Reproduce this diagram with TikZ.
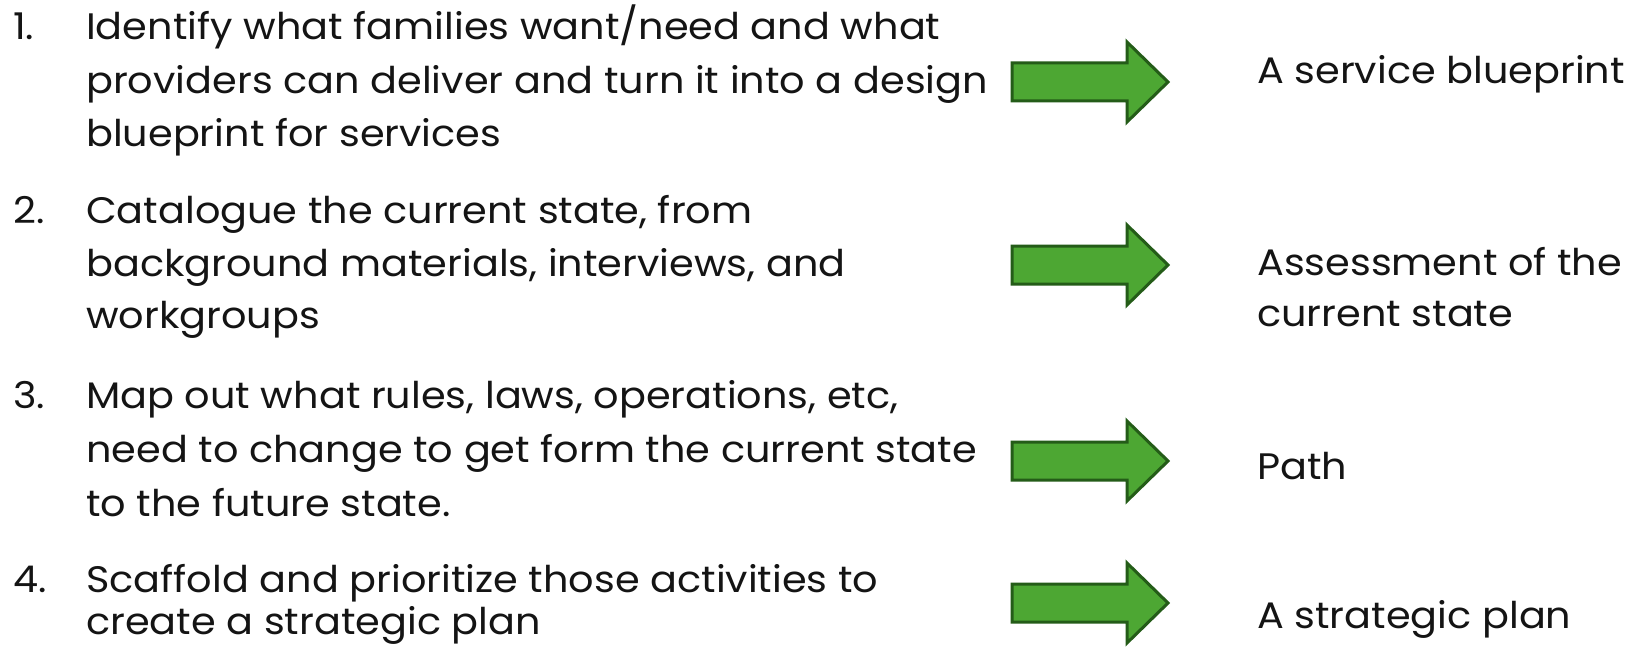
\documentclass[tikz,border=0pt]{standalone}
\usepackage{fontspec}
\setmainfont{Poppins}[FakeStretch=1.08]
\definecolor{arrowfill}{RGB}{77,167,51}
\definecolor{arrowdraw}{RGB}{36,92,24}
\definecolor{txt}{RGB}{20,20,20}
\tikzset{
  line/.style={anchor=base west, inner sep=0pt, text=txt, font=\fontsize{37}{44}\selectfont},
  bigarrow/.style={fill=arrowfill, draw=arrowdraw, line width=3bp, line join=miter}
}
\begin{document}
\begin{tikzpicture}[x=1bp,y=1bp]
\useasboundingbox[fill=white] (0,0) rectangle (1639,-653);
% item 1
\node[line] (n1) at (13,-40) {1.};
\node[line] (t1a) at (86,-40) {Identify what families want/need and what};
\node[line] (t1b) at (86,-94) {providers can deliver and turn it into a design};
\node[line] (t1c) at (86,-147) {blueprint for services};
% item 2
\node[line] (n2) at (13,-223) {2.};
\node[line] (t2a) at (86,-223) {Catalogue the current state, from};
\node[line] (t2b) at (86,-276) {background materials, interviews, and};
\node[line] (t2c) at (86,-328) {workgroups};
% item 3
\node[line] (n3) at (13,-408) {3.};
\node[line] (t3a) at (86,-408) {Map out what rules, laws, operations, etc,};
\node[line] (t3b) at (86,-462) {need to change to get form the current state};
\node[line] (t3c) at (86,-516) {to the future state.};
% item 4
\node[line] (n4) at (13,-592) {4.};
\node[line] (t4a) at (86,-592) {Scaffold and prioritize those activities to};
\node[line] (t4b) at (86,-634) {create a strategic plan};
% results
\node[line] (r1) at (1257,-84) {A service blueprint};
\node[line] (r2a) at (1257,-275) {Assessment of the};
\node[line] (r2b) at (1257,-326) {current state};
\node[line] (r3) at (1257,-479) {Path};
\node[line] (r4) at (1257,-628) {A strategic plan};
% arrows
\coordinate (a1) at (1012,-82);
\coordinate (a2) at (1012,-265);
\coordinate (a3) at (1012,-461);
\coordinate (a4) at (1012,-603);
\foreach \a in {a1,a2,a3,a4}{
  \draw[bigarrow] (\a) ++(0,19) -- ++(115,0) -- ++(0,21) -- ++(41,-40) -- ++(-41,-40) -- ++(0,21) -- ++(-115,0) -- cycle;
}
\end{tikzpicture}
\end{document}
